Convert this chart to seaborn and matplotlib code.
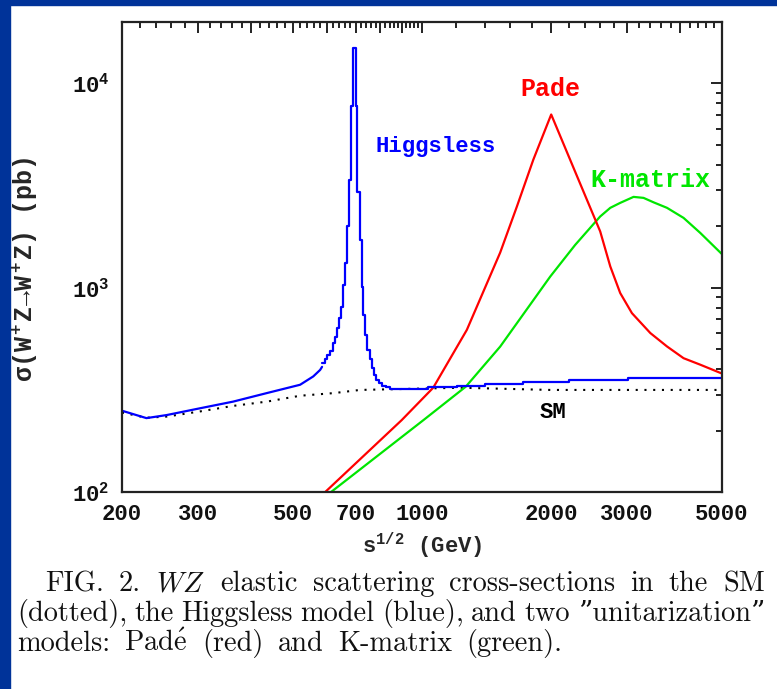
import matplotlib
matplotlib.use("Agg")
import matplotlib.pyplot as plt
import seaborn as sns
from matplotlib.patches import Rectangle
from matplotlib.transforms import IdentityTransform
from matplotlib.ticker import FixedLocator, FixedFormatter, LogLocator, NullFormatter

# ---------------- data (sqrt(s) in GeV, sigma in pb) ----------------
# Higgsless: smooth low-energy part
hl_smooth_x = [200, 228, 254, 304, 363, 435, 520, 558, 579, 585]
hl_smooth_y = [250, 230, 238, 257, 277, 305, 335, 368, 396, 410]
# Higgsless: binned resonance region (left bin edges and bin contents)
hl_bin_x = [585, 595, 601, 611, 620, 626, 633, 639, 647, 654, 662, 668, 677,
            683, 690, 702, 707, 716, 724, 730, 737, 746, 757, 765, 772, 782,
            792, 806, 825, 843, 1035, 1206, 1404, 1722, 2200, 3024, 5000]
hl_bin_y = [429, 449, 470, 491, 538, 575, 637, 713, 807, 1035, 1327, 2015,
            3383, 7800, 14870, 7800, 2956, 1718, 1011, 738, 589, 497, 449, 405,
            375, 354, 342, 331, 327, 318, 326, 331, 338, 346, 354, 361, 361]

# Pade unitarization
pade_x = [595, 897, 1062, 1272, 1521, 1664, 1817, 2000, 2274, 2601, 2746,
          2896, 3084, 3404, 3722, 4068, 4450, 5000]
pade_y = [100, 225, 324, 622, 1486, 2500, 4236, 7050, 3700, 1888, 1271,
          942, 751, 600, 516, 452, 420, 380]

# K-matrix unitarization
kmat_x = [614, 1008, 1265, 1521, 1990, 2274, 2601, 2746, 2896, 3111, 3282,
          3464, 3722, 4068, 4450, 5000]
kmat_y = [100, 225, 328, 515, 1135, 1620, 2233, 2462, 2603, 2785, 2754,
          2619, 2462, 2198, 1855, 1460]

# Standard Model
sm_x = [200, 228, 254, 304, 363, 435, 520, 624, 717, 1230, 1990, 5000]
sm_y = [245, 231, 234, 248, 264, 277, 296, 305, 316, 324, 316, 316]

# axis ticks
x_major = [200, 300, 400, 500, 600, 700, 800, 900, 1000, 2000, 3000, 4000, 5000]
x_labeled = [200, 300, 500, 700, 1000, 2000, 3000, 5000]
x_minor = ([v for v in range(220, 1000, 20) if v % 100] +
           [v for v in range(1200, 5000, 200) if v % 1000])
y_major = [100, 1000, 10000]
y_labels = [r"$\mathbf{10^2}$", r"$\mathbf{10^3}$", r"$\mathbf{10^4}$"]

caption_lines = [
    "FIG. 2.  $WZ$ elastic scattering cross-sections in the SM",
    "(dotted), the Higgsless model (blue), and two \u201dunitarization\u201d",
    r"models: Pad$\mathrm{\acute{e}}$ (red) and K-matrix (green).",
]

# ---------------- style ----------------
sns.set_theme(style="white")
plt.rcParams["font.family"] = ["Liberation Mono", "DejaVu Sans"]
plt.rcParams["mathtext.fontset"] = "custom"
plt.rcParams["mathtext.rm"] = "Liberation Mono:bold"
plt.rcParams["mathtext.bf"] = "Liberation Mono:bold"
plt.rcParams["mathtext.it"] = "Liberation Mono:bold"
plt.rcParams["mathtext.sf"] = "Liberation Mono:bold"

W, H = 777, 689
fig = plt.figure(figsize=(W / 100, H / 100), dpi=100)
fig.patch.set_facecolor("white")

# page border strips
border = "#003399"
fig.add_artist(Rectangle((0, 0), 10 / W, 1, transform=fig.transFigure,
                         color=border, zorder=0))
fig.add_artist(Rectangle((0, 1 - 5 / H), 1, 5 / H, transform=fig.transFigure,
                         color=border, zorder=0))

ax = fig.add_axes([122 / W, 1 - 492 / H, 600 / W, 470 / H])
ax.set_facecolor("white")
ax.set_xscale("log")
ax.set_yscale("log")

sns.lineplot(x=sm_x, y=sm_y, ax=ax, color="black", lw=1.5,
             linestyle=(0, (1, 3.2)), estimator=None, sort=False)
sns.lineplot(x=kmat_x, y=kmat_y, ax=ax, color="#00e600", lw=1.6,
             estimator=None, sort=False)
sns.lineplot(x=pade_x, y=pade_y, ax=ax, color="#ff0000", lw=1.6,
             estimator=None, sort=False)
sns.lineplot(x=hl_smooth_x, y=hl_smooth_y, ax=ax, color="#0000ff", lw=1.6,
             estimator=None, sort=False)
sns.lineplot(x=hl_bin_x, y=hl_bin_y, ax=ax, color="#0000ff", lw=1.6,
             estimator=None, sort=False, drawstyle="steps-post")

ax.set_xlim(200, 5000)
ax.set_ylim(100, 2.0e4)

ax.xaxis.set_major_locator(FixedLocator(x_major))
ax.xaxis.set_major_formatter(FixedFormatter(
    [str(v) if v in x_labeled else "" for v in x_major]))
ax.xaxis.set_minor_locator(FixedLocator(x_minor))
ax.xaxis.set_minor_formatter(NullFormatter())
ax.yaxis.set_major_locator(FixedLocator(y_major))
ax.yaxis.set_major_formatter(FixedFormatter(y_labels))
ax.yaxis.set_minor_locator(LogLocator(base=10, subs=range(2, 10)))
ax.yaxis.set_minor_formatter(NullFormatter())

ax.tick_params(which="both", direction="in", top=True, right=True,
               colors="#111111")
ax.tick_params(which="major", length=8, width=1.3, pad=9, labelsize=16)
ax.tick_params(which="minor", length=4, width=1.3)
for lab in ax.get_xticklabels() + ax.get_yticklabels():
    lab.set_fontweight("bold")
for sp in ax.spines.values():
    sp.set_linewidth(1.6)
    sp.set_color("#222222")

ax.set_xlabel(r"$\mathbf{s^{1/2}}$ (GeV)", fontsize=16, fontweight="bold",
              labelpad=4)
ax.set_ylabel(r"$\mathbf{\sigma(W^+Z\!\rightarrow\! W^+Z)}$ (pb)", fontsize=18,
              fontweight="bold")
ax.yaxis.set_label_coords(-0.137, 0.474)

# curve labels
ax.text(778, 4910, "Higgsless", color="#0000ff", fontsize=16,
        fontweight="bold", va="center", ha="left")
ax.text(1691, 9350, "Pade", color="#ff0000", fontsize=18,
        fontweight="bold", va="center", ha="left")
ax.text(2468, 3380, "K-matrix", color="#00e600", fontsize=18,
        fontweight="bold", va="center", ha="left")
ax.text(1882, 246, "SM", color="black", fontsize=16,
        fontweight="bold", va="center", ha="left")

# ---------------- caption (justified lines) ----------------
cap_font = dict(family=["cmr10", "DejaVu Serif"], fontsize=20.4,
                color="#111111", math_fontfamily="cm")
renderer = fig.canvas.get_renderer()


def put_line(text, x0, x1, y_base):
    y = H - y_base
    words = text.split()
    arts = [fig.text(0, y, w, transform=IdentityTransform(), va="baseline",
                     **cap_font) for w in words]
    widths = [a.get_window_extent(renderer).width for a in arts]
    gap = (x1 - x0 - sum(widths)) / (len(words) - 1)
    x = x0
    for a, w in zip(arts, widths):
        a.set_x(x)
        x += w + gap


put_line(caption_lines[0], 45, 765, 591)
put_line(caption_lines[1], 17, 765, 621)
put_line(caption_lines[2], 17, 562, 651)

fig.savefig("out.png", dpi=100, facecolor="white")
